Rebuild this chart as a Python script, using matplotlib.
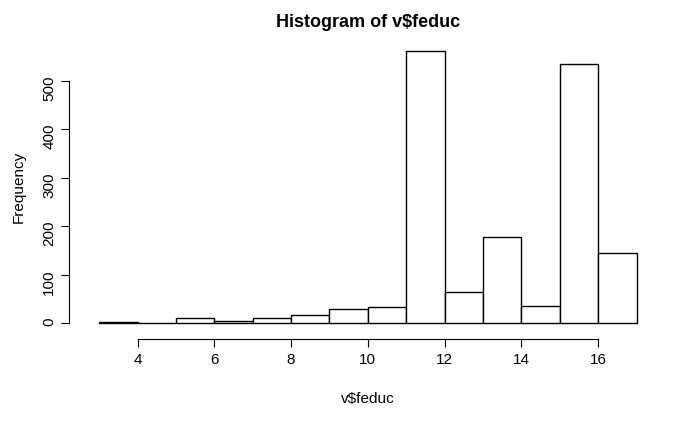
import numpy as np
import matplotlib
matplotlib.use("Agg")
from matplotlib import pyplot as plt

plt.rcParams['font.family'] = ['Liberation Sans', 'DejaVu Sans']

# histogram bins (width 1) and counts
bin_edges = list(range(3, 18))
counts = [2, 0, 10, 4, 10, 16, 29, 33, 562, 64, 178, 35, 535, 145]
x_ticks = [4, 6, 8, 10, 12, 14, 16]
y_ticks = [0, 100, 200, 300, 400, 500]

fig = plt.figure(figsize=(7, 4.32), dpi=100)
ax = fig.add_axes([0.111, 0.227, 0.829, 0.681])

left = np.array(bin_edges[:-1])
ax.bar(left, counts, width=1, align="edge", facecolor="white",
       edgecolor="black", linewidth=1)

ax.set_xlim(2.44, 17.56)
ax.set_ylim(-22.5, 584.5)
ax.set_xticks(x_ticks)
ax.set_yticks(y_ticks)
ax.tick_params(axis="y", labelrotation=90)
for lab in ax.get_yticklabels():
    lab.set_va("center")

for s in ["top", "right"]:
    ax.spines[s].set_visible(False)
ax.spines["bottom"].set_bounds(4, 16)
ax.spines["left"].set_bounds(0, 500)
ax.spines["bottom"].set_position(("outward", 4))
ax.spines["left"].set_position(("outward", 6))
ax.tick_params(length=6, labelsize=11)

ax.set_xlabel("v$feduc", fontsize=11, labelpad=18)
ax.set_ylabel("Frequency", fontsize=11, labelpad=12)
ax.set_title("Histogram of v$feduc", fontsize=13, fontweight="bold", pad=9)

fig.savefig("out.png", dpi=100)
